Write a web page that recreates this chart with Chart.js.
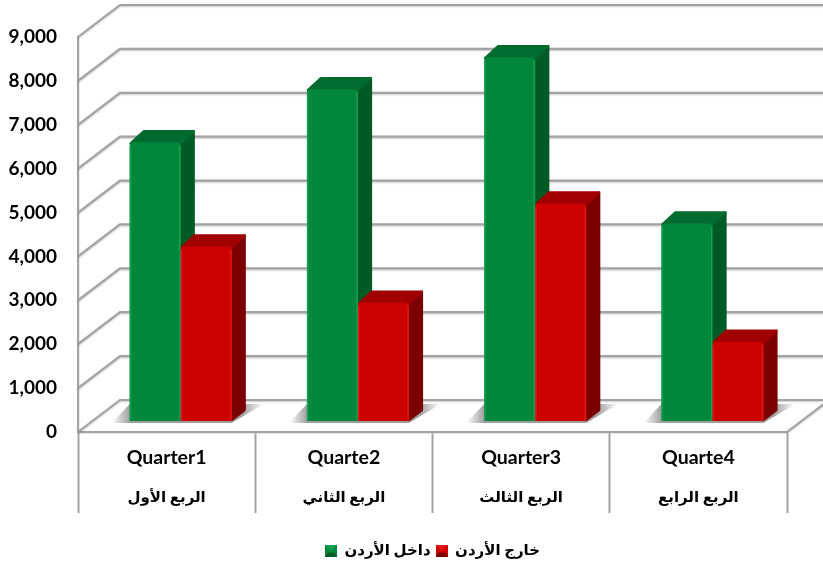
<!DOCTYPE html>
<html>
<head>
<meta charset="utf-8">
<style>
  body { margin: 0; background: #fff; }
  canvas { display: block; }
</style>
</head>
<body>
<canvas id="chart" width="823" height="568"></canvas>
<script src="https://cdn.jsdelivr.net/npm/chart.js@4"></script>
<script>
const quarterLabels = ['Quarter1', 'Quarte2', 'Quarter3', 'Quarte4'];
const arabicLabels = ['الربع الأول', 'الربع الثاني', 'الربع الثالث', 'الربع الرابع'];
const insideJordan = [6350, 7560, 8290, 4500];
const outsideJordan = [3975, 2695, 4955, 1805];
const seriesNames = ['داخل الأردن', 'خارج الأردن'];
const yTicks = [0, 1000, 2000, 3000, 4000, 5000, 6000, 7000, 8000, 9000];

const gridColor = '#a3a3a3';
const font = 'Lato, "DejaVu Sans", sans-serif';
// wall and floor depth of the fake 3D box
const wallX = 42, wallY = -32;
// bars stand part way into the box
const barX = 14, barY = -11;
const depthX = 14, depthY = -12;

const palette = [
    { front: '#00873c', edge: '#14a052', top: '#006b2e', side: '#005a25' },
    { front: '#cc0000', edge: '#e01a1a', top: '#a00000', side: '#7d0000' }
];

function swatch(c) {
    const cv = document.createElement('canvas');
    cv.width = cv.height = 12;
    const g = cv.getContext('2d');
    g.fillStyle = c.front;
    g.fillRect(0, 0, 12, 12);
    g.fillStyle = c.edge;
    g.beginPath(); g.moveTo(0, 0); g.lineTo(12, 0); g.lineTo(6, 7); g.fill();
    g.fillStyle = c.side;
    g.beginPath(); g.moveTo(0, 12); g.lineTo(12, 12); g.lineTo(9, 8); g.lineTo(3, 8); g.fill();
    return cv;
}

function line(ctx, pts) {
    ctx.beginPath();
    pts.forEach((p, i) => (i ? ctx.lineTo(p[0], p[1]) : ctx.moveTo(p[0], p[1])));
    ctx.stroke();
}

function face(ctx, pts, color) {
    ctx.fillStyle = color;
    ctx.strokeStyle = color;
    ctx.lineWidth = 2.5;
    ctx.lineJoin = 'round';
    ctx.beginPath();
    pts.forEach((p, i) => (i ? ctx.lineTo(p[0], p[1]) : ctx.moveTo(p[0], p[1])));
    ctx.closePath();
    ctx.fill();
    ctx.stroke();
}

const box3d = {
    id: 'box3d',
    beforeDatasetsDraw(chart) {
        const { ctx, chartArea: a, scales: { y } } = chart;
        ctx.save();
        ctx.strokeStyle = gridColor;
        ctx.lineWidth = 2.2;
        ctx.shadowColor = 'rgba(0,0,0,0.22)';
        ctx.shadowBlur = 2;
        ctx.shadowOffsetY = 1;
        yTicks.forEach((t) => {
            const py = y.getPixelForValue(t);
            line(ctx, [[a.left, py], [a.left + wallX, py + wallY], [a.right + wallX, py + wallY]]);
        });
        line(ctx, [[a.right, a.bottom], [a.right + wallX, a.bottom + wallY]]);
        ctx.restore();

        ctx.save();
        ctx.translate(barX, barY);
        const green = chart.getDatasetMeta(0).data;
        const red = chart.getDatasetMeta(1).data;
        // floor shadows
        green.forEach((g, i) => {
            const r = red[i];
            const left = g.x - g.width / 2;
            const right = r.x + r.width / 2;
            const grad = ctx.createLinearGradient(left - 18, 0, right + 32, 0);
            grad.addColorStop(0, 'rgba(130,130,130,0)');
            grad.addColorStop(0.12, 'rgba(125,125,125,0.75)');
            grad.addColorStop(0.86, 'rgba(125,125,125,0.75)');
            grad.addColorStop(1, 'rgba(130,130,130,0)');
            ctx.fillStyle = grad;
            ctx.beginPath();
            ctx.moveTo(left - 18, r.base + 2);
            ctx.lineTo(right, r.base + 2);
            ctx.lineTo(right + 32, r.base - 17);
            ctx.lineTo(left, r.base - 17);
            ctx.fill();
        });
        // top and side faces, the library paints the fronts over them
        [green, red].forEach((bars, s) => {
            bars.forEach((b) => {
                const l = b.x - b.width / 2, rt = b.x + b.width / 2;
                face(ctx, [[rt, b.y + 1], [rt + depthX - 1, b.y + depthY + 1], [rt + depthX - 1, b.base + depthY + 1], [rt, b.base - 1]], palette[s].side);
                face(ctx, [[l + 1, b.y + 1], [l + depthX, b.y + depthY + 1], [rt + depthX - 1, b.y + depthY + 1], [rt, b.y + 1]], palette[s].top);
            });
        });
    },
    afterDatasetsDraw(chart) {
        const { ctx } = chart;
        [0, 1].forEach((s) => {
            ctx.fillStyle = palette[s].edge;
            chart.getDatasetMeta(s).data.forEach((b) => {
                ctx.fillRect(b.x - b.width / 2, b.y + 3, 1.5, b.base - b.y - 3);
                ctx.fillRect(b.x + b.width / 2 - 1.5, b.y + 3, 1.5, b.base - b.y - 3);
            });
        });
        ctx.restore();
    }
};

new Chart(document.getElementById('chart'), {
    type: 'bar',
    data: {
        labels: quarterLabels,
        datasets: [
            { label: seriesNames[0], data: insideJordan, backgroundColor: palette[0].front },
            { label: seriesNames[1], data: outsideJordan, backgroundColor: palette[1].front }
        ]
    },
    options: {
        responsive: false,
        animation: false,
        categoryPercentage: 0.575,
        barPercentage: 1,
        borderRadius: { topLeft: 4, topRight: 4 },
        borderSkipped: false,
        layout: { padding: { top: 37, right: 36, left: 0, bottom: 0 } },
        scales: {
            x: {
                afterFit: (s) => { s.height = 52; },
                border: { color: gridColor, width: 2.2 },
                grid: { drawOnChartArea: false, tickLength: 81, tickColor: gridColor, tickWidth: 2 },
                ticks: {
                    color: '#000',
                    padding: -66.5,
                    maxRotation: 0,
                    font: { family: font, size: 19.5, weight: 'bold' }
                }
            },
            // second row of the category axis
            xArabic: {
                type: 'category',
                position: 'bottom',
                labels: arabicLabels,
                offset: true,
                afterFit: (s) => { s.height = 54; },
                border: { display: false },
                grid: { display: false },
                ticks: {
                    color: '#000',
                    padding: -4,
                    maxRotation: 0,
                    font: { family: font, size: 15, weight: 'bold' }
                }
            },
            y: {
                min: 0,
                max: 9000,
                afterFit: (s) => { s.width = 78; },
                afterBuildTicks: (s) => { s.ticks = yTicks.map((v) => ({ value: v })); },
                border: { color: gridColor, width: 2.2 },
                grid: { display: false },
                ticks: {
                    color: '#000',
                    padding: 13,
                    font: { family: font, size: 19, weight: 'bold' }
                }
            }
        },
        plugins: {
            tooltip: { enabled: false },
            legend: {
                position: 'bottom',
                fullSize: false,
                labels: {
                    color: '#000',
                    usePointStyle: true,
                    boxWidth: 12,
                    boxHeight: 12,
                    padding: 5,
                    font: { family: font, size: 15, weight: 'bold' },
                    generateLabels: () => seriesNames.map((name, i) => ({
                        text: name,
                        datasetIndex: i,
                        pointStyle: swatch(palette[i]),
                        fillStyle: palette[i].front,
                        strokeStyle: palette[i].front,
                        lineWidth: 0
                    }))
                }
            }
        }
    },
    plugins: [box3d]
});
</script>
</body>
</html>
